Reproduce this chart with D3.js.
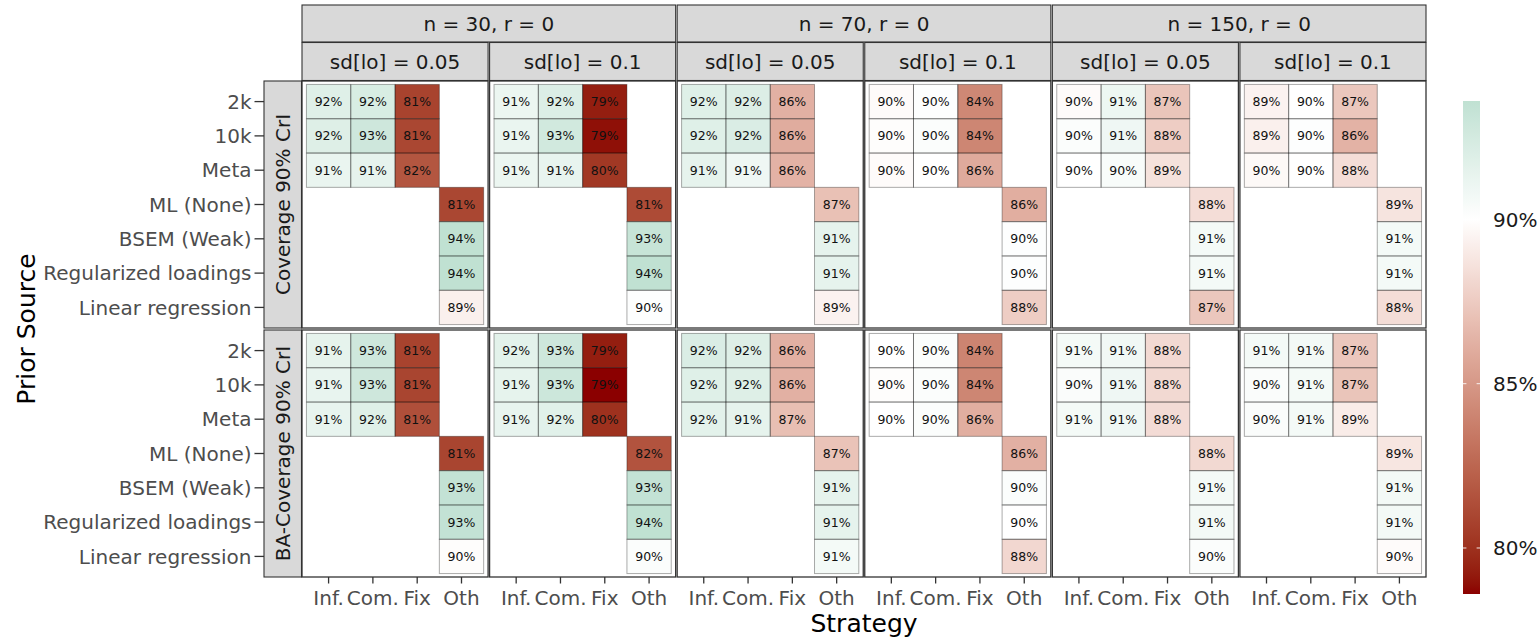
<!DOCTYPE html>
<html>
<head>
<meta charset="utf-8">
<script src="https://cdn.jsdelivr.net/npm/d3@7"></script>
<style>
  html, body { margin: 0; padding: 0; background: #fff; }
  svg { display: block; font-family: "DejaVu Sans", sans-serif; }
</style>
</head>
<body>
<svg id="chart" width="1539" height="640"></svg>
<script>
// ---- categories ----
const strategies = ["Inf.", "Com.", "Fix", "Oth"];
const priorSources = ["2k", "10k", "Meta", "ML (None)", "BSEM (Weak)", "Regularized loadings", "Linear regression"];
const informedSources = ["2k", "10k", "Meta"];
const informedStrategies = ["Inf.", "Com.", "Fix"];
const otherSources = ["ML (None)", "BSEM (Weak)", "Regularized loadings", "Linear regression"];
const sampleLabels = ["n = 30, r = 0", "n = 70, r = 0", "n = 150, r = 0"];
const sdLabels = ["sd[lo] = 0.05", "sd[lo] = 0.1"];
const metricLabels = ["Coverage 90% CrI", "BA-Coverage 90% CrI"];
const legendTicks = [80, 85, 90];

// ---- coverage (%) ----
// one entry per panel: n=30/sd.05, n=30/sd.1, n=70/sd.05, n=70/sd.1, n=150/sd.05, n=150/sd.1
// informed: rows 2k, 10k, Meta; columns Inf., Com., Fix
const coverageInformed = [
  [[91.8, 92.2, 80.8], [91.9, 92.8, 81.0], [91.2, 91.4, 81.7]],
  [[91.1, 92.0, 79.3], [91.2, 92.6, 78.9], [91.1, 91.3, 80.3]],
  [[91.8, 92.0, 86.2], [91.8, 92.1, 86.0], [91.4, 90.9, 86.3]],
  [[89.8, 90.1, 84.2], [89.9, 90.2, 84.1], [89.8, 90.0, 85.9]],
  [[89.8, 91.0, 87.2], [90.2, 90.9, 87.6], [90.0, 90.4, 88.6]],
  [[89.4, 90.0, 87.3], [89.3, 90.1, 86.3], [89.7, 90.0, 88.4]]
];
// other: ML (None), BSEM (Weak), Regularized loadings, Linear regression (strategy Oth)
const coverageOther = [
  [81.0, 93.6, 93.6, 89.3],
  [81.2, 93.2, 93.6, 90.1],
  [87.0, 91.4, 91.4, 89.4],
  [86.1, 90.1, 90.1, 87.6],
  [88.4, 90.6, 90.6, 87.3],
  [88.7, 90.6, 90.6, 88.4]
];
const baCoverageInformed = [
  [[91.4, 92.8, 80.8], [91.3, 92.8, 80.9], [91.3, 91.8, 81.4]],
  [[91.6, 92.8, 79.3], [91.4, 92.9, 78.6], [91.3, 91.7, 80.0]],
  [[92.1, 91.9, 86.2], [91.8, 91.9, 86.2], [91.6, 91.4, 86.9]],
  [[90.0, 90.2, 84.0], [89.9, 90.2, 84.1], [90.0, 90.2, 86.1]],
  [[90.6, 90.8, 88.2], [90.3, 90.9, 88.2], [90.6, 90.9, 88.3]],
  [[90.6, 90.7, 87.3], [90.3, 90.6, 87.2], [90.3, 90.6, 89.1]]
];
const baCoverageOther = [
  [80.9, 93.4, 93.4, 89.9],
  [81.6, 93.4, 93.6, 90.2],
  [87.1, 91.4, 91.4, 90.6],
  [86.2, 90.2, 90.0, 88.1],
  [88.2, 90.6, 90.7, 90.2],
  [88.8, 90.7, 90.7, 89.8]
];

// ---- assemble tidy cells ----
const cells = [];
[[coverageInformed, coverageOther], [baCoverageInformed, baCoverageOther]].forEach(([inf, oth], m) => {
  inf.forEach((grid, p) => {
    grid.forEach((row, r) => row.forEach((v, s) => cells.push({
      metric: m, panel: p, source: informedSources[r], strategy: informedStrategies[s], value: v
    })));
    oth[p].forEach((v, r) => cells.push({
      metric: m, panel: p, source: otherSources[r], strategy: "Oth", value: v
    }));
  });
});

// ---- layout ----
const svg = d3.select("#chart");
const plotLeft = 302, plotRight = 1426, panelGap = 1.5;
const nPanels = sampleLabels.length * sdLabels.length;
const pw = (plotRight - plotLeft - panelGap * (nPanels - 1)) / nPanels;
const rowTop = [81, 330], ph = 247;
const strip1 = { y: 5, h: 37 }, strip2 = { y: 42.5, h: 38 };
const leftStrip = { x: 264, w: 37.5 };
const stroke = "#333333";
const textSize = 20, titleSize = 25, cellSize = 12.5;
const panelX = p => plotLeft + p * (pw + panelGap);

const x = d3.scaleBand().domain(strategies).range([0, pw]).paddingInner(0).paddingOuter(0.1);
const y = d3.scaleBand().domain(priorSources).range([0, ph]).paddingInner(0).paddingOuter(0.1);

// diverging fill centred on the nominal 90% level
const vMin = d3.min(cells, d => d.value), vMax = d3.max(cells, d => d.value), mid = 90;
const ext = Math.max(mid - vMin, vMax - mid);
const fill = d3.scaleLinear()
  .domain([mid - ext, mid, mid + ext])
  .range(["darkred", "white", "#1b9e77"])
  .interpolate(d3.interpolateLab);
const pct = v => d3.format(".0f")(v) + "%";

// ---- top strips ----
sampleLabels.forEach((lab, i) => {
  const x0 = panelX(i * 2), x1 = panelX(i * 2 + 1) + pw;
  const g = svg.append("g");
  g.append("rect").attr("x", x0).attr("y", strip1.y).attr("width", x1 - x0).attr("height", strip1.h)
    .attr("fill", "#d9d9d9").attr("stroke", stroke).attr("stroke-width", 1.1);
  g.append("text").attr("x", (x0 + x1) / 2).attr("y", strip1.y + strip1.h / 2).attr("dy", "0.36em")
    .attr("text-anchor", "middle").attr("font-size", textSize).attr("fill", "#1a1a1a").text(lab);
});
for (let p = 0; p < nPanels; p++) {
  const g = svg.append("g");
  g.append("rect").attr("x", panelX(p)).attr("y", strip2.y).attr("width", pw).attr("height", strip2.h)
    .attr("fill", "#d9d9d9").attr("stroke", stroke).attr("stroke-width", 1.1);
  g.append("text").attr("x", panelX(p) + pw / 2).attr("y", strip2.y + strip2.h / 2).attr("dy", "0.36em")
    .attr("text-anchor", "middle").attr("font-size", textSize).attr("fill", "#1a1a1a").text(sdLabels[p % 2]);
}

// ---- panels ----
metricLabels.forEach((mLab, m) => {
  const top = rowTop[m];
  // left strip
  svg.append("rect").attr("x", leftStrip.x).attr("y", top).attr("width", leftStrip.w).attr("height", ph)
    .attr("fill", "#d9d9d9").attr("stroke", stroke).attr("stroke-width", 1.1);
  svg.append("text")
    .attr("transform", `translate(${leftStrip.x + leftStrip.w / 2},${top + ph / 2}) rotate(-90)`)
    .attr("dy", "0.36em").attr("text-anchor", "middle").attr("font-size", textSize).attr("fill", "#1a1a1a")
    .text(mLab);

  // y axis labels and ticks
  const ya = svg.append("g");
  priorSources.forEach(s => {
    const cy = top + y(s) + y.bandwidth() / 2;
    ya.append("line").attr("x1", 254.5).attr("x2", leftStrip.x).attr("y1", cy).attr("y2", cy)
      .attr("stroke", stroke).attr("stroke-width", 1.3);
    ya.append("text").attr("x", 251.5).attr("y", cy).attr("dy", "0.36em").attr("text-anchor", "end")
      .attr("font-size", textSize).attr("fill", "#4d4d4d").text(s);
  });

  for (let p = 0; p < nPanels; p++) {
    const g = svg.append("g").attr("transform", `translate(${panelX(p)},${top})`);
    g.append("rect").attr("width", pw).attr("height", ph).attr("fill", "white");
    const data = cells.filter(d => d.metric === m && d.panel === p);
    g.append("g").selectAll("rect").data(data).join("rect")
      .attr("x", d => x(d.strategy)).attr("y", d => y(d.source))
      .attr("width", x.bandwidth()).attr("height", y.bandwidth())
      .attr("fill", d => fill(d.value));
    g.append("g").selectAll("rect").data(data).join("rect")
      .attr("x", d => x(d.strategy)).attr("y", d => y(d.source))
      .attr("width", x.bandwidth()).attr("height", y.bandwidth())
      .attr("fill", "none").attr("stroke", "black").attr("stroke-opacity", 0.33).attr("stroke-width", 1);
    g.append("g").selectAll("text").data(data).join("text")
      .attr("x", d => x(d.strategy) + x.bandwidth() / 2)
      .attr("y", d => y(d.source) + y.bandwidth() / 2)
      .attr("dy", "0.36em").attr("text-anchor", "middle")
      .attr("font-size", cellSize).attr("fill", "#111").text(d => pct(d.value));
    g.append("rect").attr("width", pw).attr("height", ph).attr("fill", "none")
      .attr("stroke", stroke).attr("stroke-width", 1.3);
  }
});

// ---- x axes ----
const bottom = rowTop[1] + ph;
for (let p = 0; p < nPanels; p++) {
  const g = svg.append("g").attr("transform", `translate(${panelX(p)},${bottom})`);
  strategies.forEach(s => {
    const cx = x(s) + x.bandwidth() / 2;
    g.append("line").attr("x1", cx).attr("x2", cx).attr("y1", 0).attr("y2", 6.5)
      .attr("stroke", stroke).attr("stroke-width", 1.3);
    g.append("text").attr("x", cx).attr("y", 27.5).attr("text-anchor", "middle")
      .attr("font-size", textSize).attr("fill", "#4d4d4d").text(s);
  });
}

// ---- axis titles ----
svg.append("text").attr("x", (plotLeft + plotRight) / 2).attr("y", 632).attr("text-anchor", "middle")
  .attr("font-size", titleSize).attr("fill", "black").text("Strategy");
svg.append("text")
  .attr("transform", `translate(35,${(rowTop[0] + rowTop[1] + ph) / 2}) rotate(-90)`)
  .attr("text-anchor", "middle").attr("font-size", titleSize).attr("fill", "black").text("Prior Source");

// ---- colour bar ----
const bar = { x: 1463, w: 17, top: 101, bottom: 594 };
const ly = d3.scaleLinear().domain([vMin, vMax]).range([bar.bottom, bar.top]);
const grad = svg.append("defs").append("linearGradient").attr("id", "fillbar")
  .attr("x1", 0).attr("x2", 0).attr("y1", 1).attr("y2", 0);
d3.range(0, 1.0001, 0.02).forEach(t => {
  grad.append("stop").attr("offset", t).attr("stop-color", fill(vMin + t * (vMax - vMin)));
});
svg.append("rect").attr("x", bar.x).attr("y", bar.top).attr("width", bar.w)
  .attr("height", bar.bottom - bar.top).attr("fill", "url(#fillbar)");
const lg = svg.append("g");
legendTicks.forEach(t => {
  const ty = ly(t);
  lg.append("line").attr("x1", bar.x).attr("x2", bar.x + 3.4).attr("y1", ty).attr("y2", ty)
    .attr("stroke", "white").attr("stroke-opacity", 0.8).attr("stroke-width", 1.1);
  lg.append("line").attr("x1", bar.x + bar.w - 3.4).attr("x2", bar.x + bar.w).attr("y1", ty).attr("y2", ty)
    .attr("stroke", "white").attr("stroke-opacity", 0.8).attr("stroke-width", 1.1);
  lg.append("text").attr("x", 1493).attr("y", ty).attr("dy", "0.36em")
    .attr("font-size", textSize).attr("fill", "#1a1a1a").text(pct(t));
});
</script>
</body>
</html>
